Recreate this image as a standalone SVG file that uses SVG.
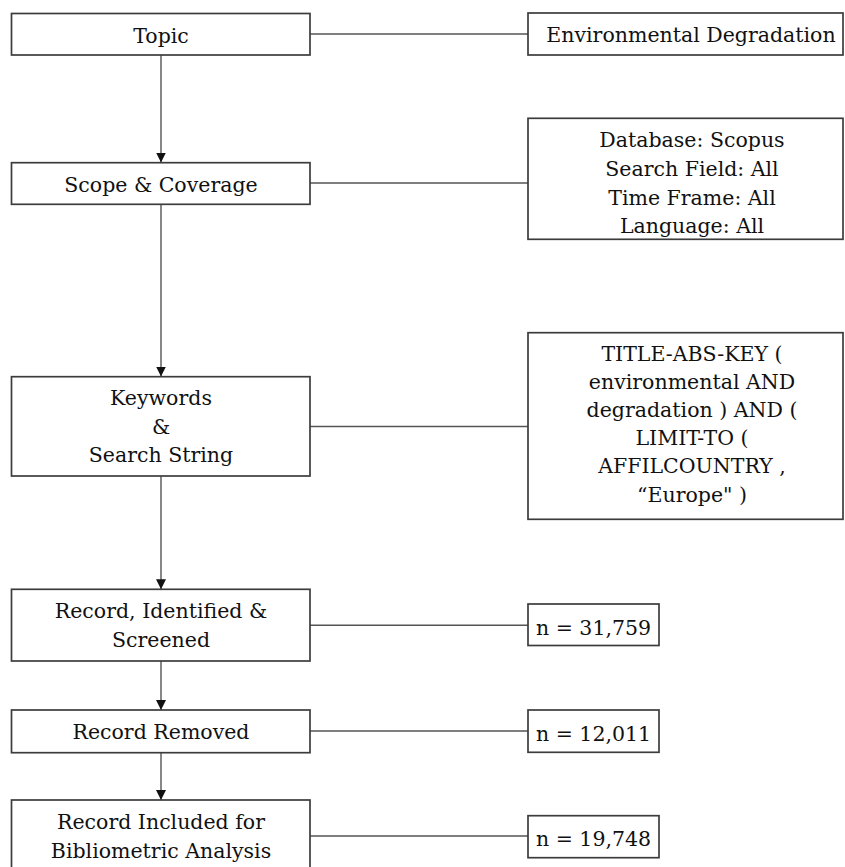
<svg xmlns="http://www.w3.org/2000/svg" width="845" height="867" viewBox="0 0 845 867">
<style>
.box{fill:#fff;stroke:#3c3c3c;stroke-width:1.7}
.t{font-family:"DejaVu Serif","Liberation Serif",serif;font-size:20.5px;fill:#111;text-anchor:middle}
.c{fill:none;stroke:#555;stroke-width:1.4}
</style>
<defs>
<marker id="ah" markerUnits="userSpaceOnUse" markerWidth="10" markerHeight="10" refX="10" refY="5" orient="auto">
<path d="M0,0 L10,5 L0,10 Z" fill="#111"/>
</marker>
</defs>
<rect width="845" height="867" fill="#fff"/>
<g id="connectors">
<line class="c" x1="310" y1="34" x2="528" y2="34"/>
<line class="c" x1="310" y1="183" x2="528" y2="183"/>
<line class="c" x1="310" y1="426.5" x2="528" y2="426.5"/>
<line class="c" x1="310" y1="625.3" x2="528" y2="625.3"/>
<line class="c" x1="310" y1="731" x2="528" y2="731"/>
<line class="c" x1="310" y1="836" x2="528" y2="836"/>
<line class="c" x1="161" y1="55" x2="161" y2="162.5" marker-end="url(#ah)"/>
<line class="c" x1="161" y1="204.3" x2="161" y2="376.5" marker-end="url(#ah)"/>
<line class="c" x1="161" y1="476" x2="161" y2="589.3" marker-end="url(#ah)"/>
<line class="c" x1="161" y1="661" x2="161" y2="710" marker-end="url(#ah)"/>
<line class="c" x1="161" y1="752.7" x2="161" y2="800" marker-end="url(#ah)"/>
</g>
<g id="topic">
<rect class="box" x="11.5" y="13.5" width="298.5" height="41.5"/>
<text class="t" x="161" y="42.5">Topic</text>
</g>
<g id="env">
<rect class="box" x="528" y="13" width="315" height="42"/>
<text class="t" x="691" y="42">Environmental Degradation</text>
</g>
<g id="scope">
<rect class="box" x="11.5" y="162.7" width="298.5" height="41.6"/>
<text class="t" x="161" y="191.7">Scope &amp; Coverage</text>
</g>
<g id="database">
<rect class="box" x="528" y="118.3" width="315" height="121"/>
<text class="t" x="692" y="147.3">Database: Scopus</text>
<text class="t" x="692" y="176">Search Field: All</text>
<text class="t" x="692" y="204.7">Time Frame: All</text>
<text class="t" x="692" y="233.3">Language: All</text>
</g>
<g id="keywords">
<rect class="box" x="11.5" y="376.7" width="298.5" height="99.3"/>
<text class="t" x="161" y="405">Keywords</text>
<text class="t" x="161" y="434">&amp;</text>
<text class="t" x="161" y="461.7">Search String</text>
</g>
<g id="searchstring">
<rect class="box" x="528" y="332.7" width="315" height="186.6"/>
<text class="t" x="692" y="360.5">TITLE-ABS-KEY (</text>
<text class="t" x="692" y="388.7">environmental AND</text>
<text class="t" x="692" y="416.9">degradation ) AND (</text>
<text class="t" x="692" y="445.1">LIMIT-TO (</text>
<text class="t" x="692" y="473.3">AFFILCOUNTRY ,</text>
<text class="t" x="692" y="501.5">“Europe" )</text>
</g>
<g id="identified">
<rect class="box" x="11.5" y="589.3" width="298.5" height="71.7"/>
<text class="t" x="161" y="618.3">Record, Identified &amp;</text>
<text class="t" x="161" y="647.3">Screened</text>
</g>
<g id="n1">
<rect class="box" x="528" y="604" width="131" height="41.5"/>
<text class="t" x="593.5" y="634.5">n = 31,759</text>
</g>
<g id="removed">
<rect class="box" x="11.5" y="710" width="298.5" height="42.7"/>
<text class="t" x="161" y="739">Record Removed</text>
</g>
<g id="n2">
<rect class="box" x="528" y="710" width="131" height="42.3"/>
<text class="t" x="593.5" y="740.5">n = 12,011</text>
</g>
<g id="included">
<rect class="box" x="11.5" y="800" width="298.5" height="75"/>
<text class="t" x="161" y="829">Record Included for</text>
<text class="t" x="161" y="857.5">Bibliometric Analysis</text>
</g>
<g id="n3">
<rect class="box" x="528" y="815.7" width="131" height="42"/>
<text class="t" x="593.5" y="846">n = 19,748</text>
</g>
</svg>
